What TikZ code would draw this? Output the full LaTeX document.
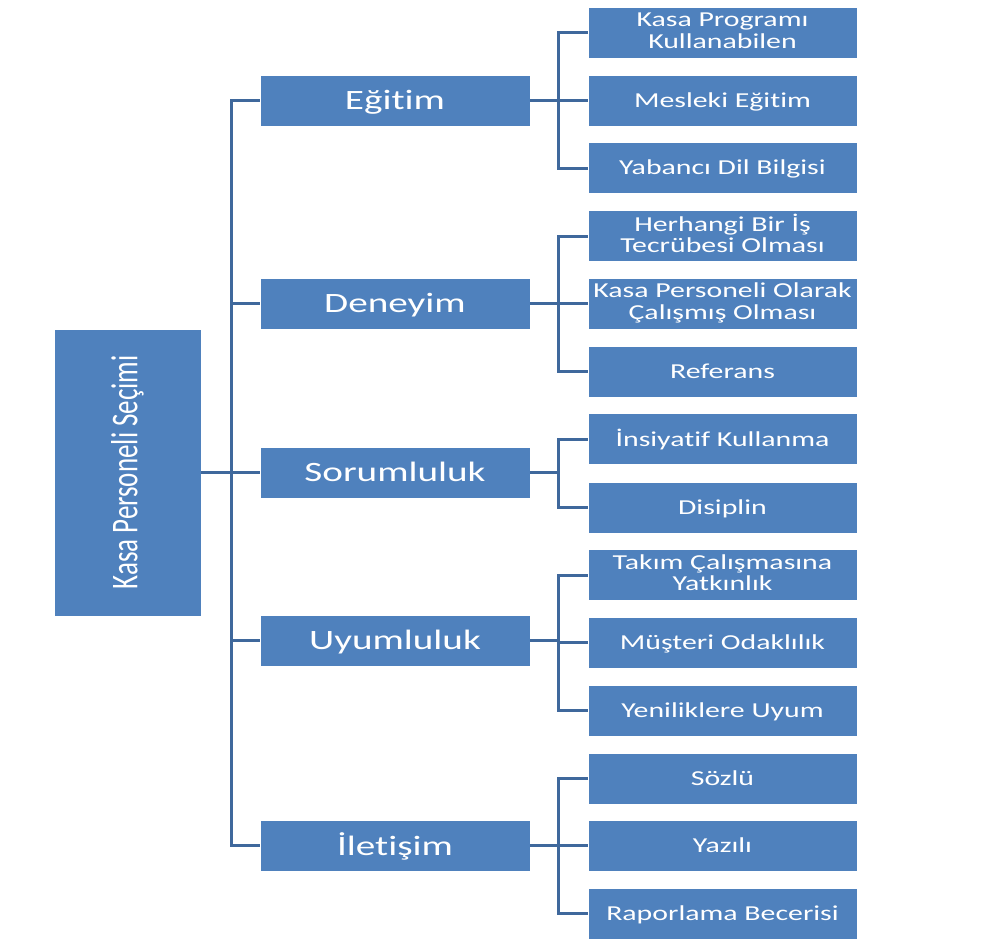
\documentclass[tikz,border=0pt]{standalone}
\usepackage{fontspec}
\setmainfont{Carlito}[Ligatures=NoCommon]
\definecolor{boxblue}{HTML}{4F81BD}
\definecolor{lineblue}{HTML}{3F689C}
\newcommand{\wtext}[1]{\raisebox{-2.5pt}[\height][\depth]{\scalebox{1.4}[1]{\begin{tabular}{@{}c@{}}#1\end{tabular}}}}
\newcommand{\wtextb}[1]{\raisebox{-0.6pt}[\height][\depth]{\scalebox{1.4}[1]{\begin{tabular}{@{}c@{}}#1\end{tabular}}}}
\newcommand{\wtextl}[1]{\raisebox{-3.2pt}[\height][\depth]{\scalebox{1.4}[1]{\begin{tabular}{@{}c@{}}#1\end{tabular}}}}
\begin{document}
\begin{tikzpicture}[x=1pt,y=-1pt,
  base/.style={fill=boxblue, draw=white, line width=0.8pt, text=white, inner sep=0pt, align=center},
  rootbox/.style={base, minimum width=147pt, minimum height=287pt},
  lone/.style={base, minimum width=270pt, minimum height=51pt, font=\fontsize{28}{30}\selectfont},
  ltwo/.style={base, minimum width=269pt, minimum height=51pt, font=\fontsize{21.3}{21.5}\selectfont},
  conn/.style={draw=lineblue, line width=3pt, line join=miter}]
\useasboundingbox (0,0) rectangle (986,940);
% root
\node[rootbox] (root) at (127.5,472.5) {};
\node[rotate=90, text=white, inner sep=0pt, font=\fontsize{27}{30}\selectfont] (roottext) at (root.center) {\scalebox{1}[1.4]{Kasa Personeli Seçimi}};
% level one
\node[lone] (e) at (395,100.5) {\wtextl{Eğitim}};
\node[lone] (d) at (395,303.5) {\wtextl{Deneyim}};
\node[lone] (s) at (395,472.5) {\wtextl{Sorumluluk}};
\node[lone] (u) at (395,640.5) {\wtextl{Uyumluluk}};
\node[lone] (i) at (395,845.5) {\wtextl{İletişim}};
% level two
\node[ltwo] (e1) at (722.5,32.5) {\wtextb{Kasa Programı\\Kullanabilen}};
\node[ltwo] (e2) at (722.5,100.5) {\wtext{Mesleki Eğitim}};
\node[ltwo] (e3) at (722.5,168) {\wtext{Yabancı Dil Bilgisi}};
\node[ltwo] (d1) at (722.5,236) {\wtextb{Herhangi Bir İş\\Tecrübesi Olması}};
\node[ltwo] (d2) at (722.5,303.5) {\wtextb{Kasa Personeli Olarak\\Çalışmış Olması}};
\node[ltwo] (d3) at (722.5,371.5) {\wtext{Referans}};
\node[ltwo] (s1) at (722.5,439) {\wtext{İnsiyatif Kullanma}};
\node[ltwo] (s2) at (722.5,507.5) {\wtext{Disiplin}};
\node[ltwo] (u1) at (722.5,575) {\wtextb{Takım Çalışmasına\\Yatkınlık}};
\node[ltwo] (u2) at (722.5,642.5) {\wtext{Müşteri Odaklılık}};
\node[ltwo] (u3) at (722.5,710.5) {\wtext{Yeniliklere Uyum}};
\node[ltwo] (i1) at (722.5,778.5) {\wtext{Sözlü}};
\node[ltwo] (i2) at (722.5,845.5) {\wtext{Yazılı}};
\node[ltwo] (i3) at (722.5,913.5) {\wtext{Raporlama Becerisi}};
% trunk
\coordinate (T) at (231,472.5);
\draw[conn] (root.east) -- (T);
\foreach \n in {e,d,s,u,i} { \draw[conn] (T) |- (\n.west); }
% sub trunks
\coordinate (Te) at (558,100.5);
\coordinate (Td) at (558,303.5);
\coordinate (Ts) at (558,472.5);
\coordinate (Tu) at (558,640.5);
\coordinate (Ti) at (558,845.5);
\draw[conn] (e.east) -- (Te);
\draw[conn] (d.east) -- (Td);
\draw[conn] (s.east) -- (Ts);
\draw[conn] (u.east) -- (Tu);
\draw[conn] (i.east) -- (Ti);
\foreach \c in {e1,e2,e3} { \draw[conn] (Te) |- (\c.west); }
\foreach \c in {d1,d2,d3} { \draw[conn] (Td) |- (\c.west); }
\foreach \c in {s1,s2} { \draw[conn] (Ts) |- (\c.west); }
\foreach \c in {u1,u2,u3} { \draw[conn] (Tu) |- (\c.west); }
\foreach \c in {i1,i2,i3} { \draw[conn] (Ti) |- (\c.west); }
\end{tikzpicture}
\end{document}
